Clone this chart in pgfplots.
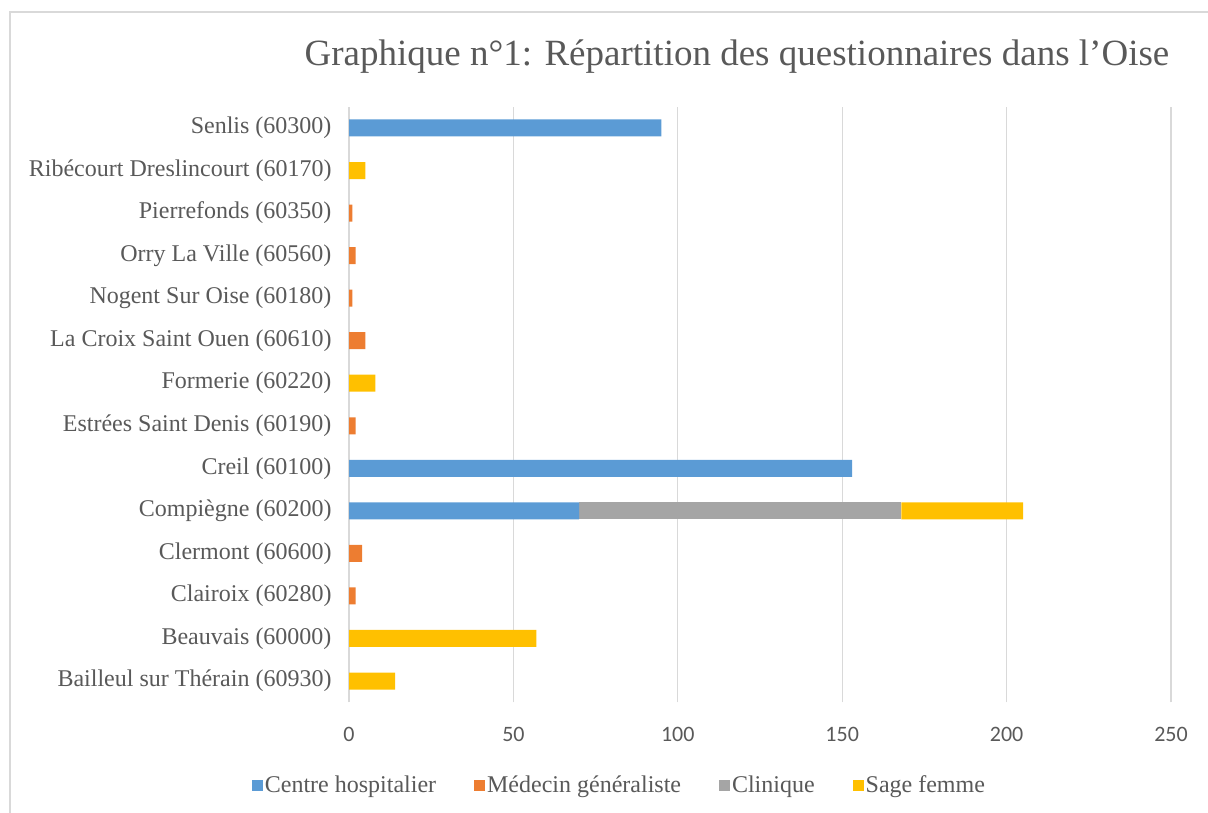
\documentclass[border=0pt]{standalone}
\usepackage{fontspec}
\setmainfont{Liberation Serif}
\newfontfamily\carlito{Carlito}
\newfontfamily\lserif{Liberation Serif}
\usepackage{pgfplots}
\pgfplotsset{compat=1.18}
\definecolor{cCH}{HTML}{5B9BD5}
\definecolor{cMG}{HTML}{ED7D31}
\definecolor{cCl}{HTML}{A5A5A5}
\definecolor{cSF}{HTML}{FFC000}
\definecolor{gridc}{HTML}{D9D9D9}
\definecolor{txtg}{HTML}{595959}
\pgfplotstableread{
idx CH MG Cl SF
0 0 0 0 14
1 0 0 0 57
2 0 2 0 0
3 0 4 0 0
4 70 0 98 37
5 153 0 0 0
6 0 2 0 0
7 0 0 0 8
8 0 5 0 0
9 0 1 0 0
10 0 2 0 0
11 0 1 0 0
12 0 0 0 5
13 95 0 0 0
}\datatable
\newcommand\legfont{\lserif\fontsize{24bp}{28bp}\selectfont}
\begin{document}
\begin{tikzpicture}
\useasboundingbox (0,0) rectangle (1208bp,813bp);
\draw[color=gridc, line width=1.2bp] (10bp,0bp) -- (10bp,801bp) -- (1208bp,801bp);
\node[font=\rmfamily\fontsize{37bp}{42bp}\selectfont, text=txtg] at (737bp,756bp) {Graphique n°1: Répartition des questionnaires dans l'Oise};
\begin{axis}[
  at={(349bp,110.7bp)}, anchor=south west,
  scale only axis, width=822bp, height=595.6bp,
  xmin=0, xmax=250, ymin=-0.5, ymax=13.5,
  xbar stacked, bar width=17bp,
  xtick={0,50,100,150,200,250},
  ytick={0,...,13},
  yticklabels={Bailleul sur Thérain (60930),Beauvais (60000),Clairoix (60280),Clermont (60600),Compiègne (60200),Creil (60100),Estrées Saint Denis (60190),Formerie (60220),La Croix Saint Ouen (60610),Nogent Sur Oise (60180),Orry La Ville (60560),Pierrefonds (60350),Ribécourt Dreslincourt (60170),Senlis (60300)},
  xmajorgrids, major grid style={color=gridc, line width=1.2bp},
  axis line style={draw=none}, major tick style={draw=none},
  /pgf/number format/assume math mode=true,
  xticklabel style={font=\carlito\fontsize{22bp}{26bp}\selectfont, text=txtg, yshift=-21bp},
  yticklabel style={font=\rmfamily\fontsize{24bp}{28bp}\selectfont, text=txtg, xshift=-14bp},
  legend columns=-1,
  legend style={draw=none, at={(0.329,-0.139)}, anchor=center, font=\legfont, text=txtg,
    nodes={font=\legfont, text=txtg},
    /tikz/every even column/.append style={column sep=36bp},
    /tikz/every odd column/.append style={inner xsep=0bp}},
  legend image code/.code={\fill[#1] (0bp,-5.5bp) rectangle (11bp,5.5bp);},
]
\addplot[fill=cCH, draw=none] table[x=CH, y=idx] {\datatable};
\addplot[fill=cMG, draw=none] table[x=MG, y=idx] {\datatable};
\addplot[fill=cCl, draw=none] table[x=Cl, y=idx] {\datatable};
\addplot[fill=cSF, draw=none] table[x=SF, y=idx] {\datatable};
\legend{{\legfont Centre hospitalier}, {\legfont Médecin généraliste}, {\legfont Clinique}, {\legfont Sage femme}}
\end{axis}
\end{tikzpicture}
\end{document}
